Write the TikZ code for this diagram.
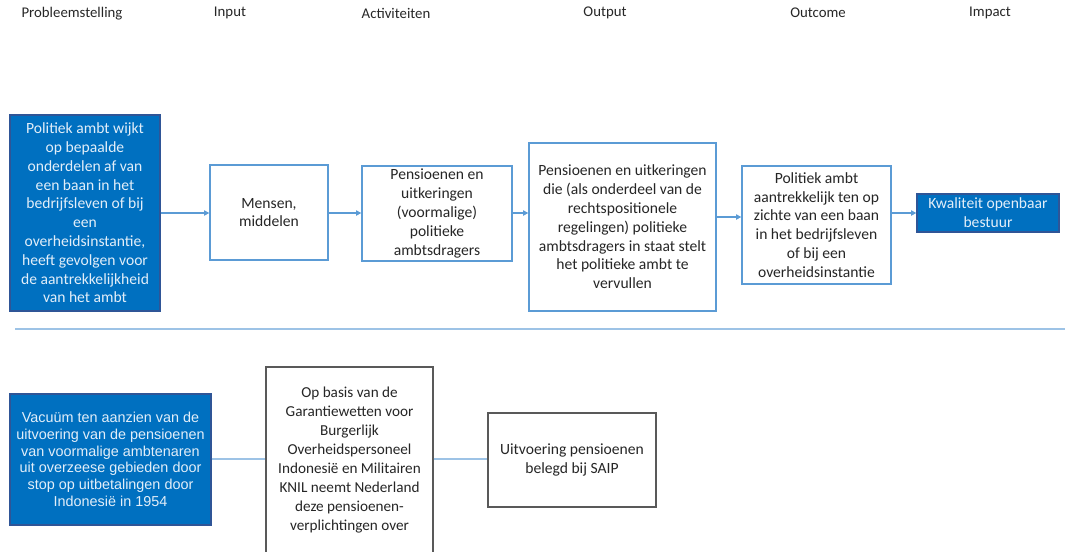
\documentclass[tikz,border=0pt]{standalone}
\usepackage{fontspec}
\setmainfont{Carlito}
\newfontfamily\arialf{Liberation Sans}
\usetikzlibrary{arrows.meta}
\definecolor{bluefill}{HTML}{0070C0}
\definecolor{blueborder}{HTML}{2F5597}
\definecolor{boxline}{HTML}{5B9BD5}
\definecolor{lightline}{HTML}{9DC3E6}
\definecolor{grayline}{HTML}{595959}
\definecolor{lighttext}{HTML}{E2EEF9}
\definecolor{darktext}{HTML}{262626}
\def\u{0.75pt}
\tikzset{
  header/.style={font=\fontsize{11.1}{12}\selectfont, text=darktext, inner sep=0pt},
  wbox/.style={draw=boxline, line width=1pt, fill=white, align=center, inner sep=0pt,
    text=darktext, font=\fontsize{11.7}{14.1}\selectfont},
  bbox/.style={draw=blueborder, line width=1pt, fill=bluefill, align=center, inner sep=0pt,
    text=lighttext, font=\fontsize{11.7}{14.1}\selectfont},
  gbox/.style={draw=grayline, line width=0.9pt, fill=white, align=center, inner sep=0pt,
    text=darktext, font=\fontsize{11.4}{14.25}\selectfont},
  flow/.style={draw=boxline, line width=1pt, -{Triangle[length=4pt,width=4pt]}},
  plain/.style={draw=lightline, line width=1.2pt},
}
\begin{document}
\begin{tikzpicture}[x=0.75pt,y=-0.75pt]
\useasboundingbox (0,0) rectangle (1067,551);
\clip (0,0) rectangle (1067,551);

% headers
\node[header] (h1) at (72,14) {Probleemstelling};
\node[header] (h2) at (230,13) {Input};
\node[header] (h3) at (396,13) {Activiteiten};
\node[header] (h4) at (605,13) {Output};
\node[header] (h5) at (818,13) {Outcome};
\node[header] (h6) at (990,13) {Impact};

% top row
\node[bbox, minimum width=150*\u, minimum height=196*\u] (p1) at (85,213)
  {Politiek ambt wijkt\\op bepaalde\\onderdelen af van\\een baan in het\\bedrijfsleven of bij\\een\\overheidsinstantie,\\heeft gevolgen voor\\de aantrekkelijkheid\\van het ambt};
\node[wbox, minimum width=118*\u, minimum height=95*\u] (in) at (269,212.5)
  {Mensen,\\middelen};
\node[wbox, minimum width=150*\u, minimum height=95*\u] (act) at (437,213.5)
  {Pensioenen en\\uitkeringen\\(voormalige)\\politieke\\ambtsdragers};
\node[wbox, minimum width=187*\u, minimum height=168*\u] (out) at (622.5,227)
  {Pensioenen en uitkeringen\\die (als onderdeel van de\\rechtspositionele\\regelingen) politieke\\ambtsdragers in staat stelt\\het politieke ambt te\\vervullen};
\node[wbox, minimum width=149*\u, minimum height=118*\u] (oc) at (816.5,225)
  {Politiek ambt\\aantrekkelijk ten op\\zichte van een baan\\in het bedrijfsleven\\of bij een\\overheidsinstantie};
\node[bbox, minimum width=142*\u, minimum height=38*\u] (imp) at (988,213)
  {Kwaliteit openbaar\\bestuur};

\draw[flow] (p1.east |- 0,213) -- (in.west |- 0,213);
\draw[flow] (in.east |- 0,213) -- (act.west |- 0,213);
\draw[flow] (act.east |- 0,213) -- (out.west |- 0,213);
\draw[flow] (out.east |- 0,217) -- (oc.west |- 0,217);
\draw[flow] (oc.east |- 0,213) -- (imp.west |- 0,213);

% separator
\coordinate (s1) at (15,329);
\coordinate (s2) at (1065,329);
\draw[plain] (s1) -- (s2);

% bottom row
\node[bbox, minimum width=201*\u, minimum height=131*\u,
  font=\arialf\fontsize{10.8}{12.5}\selectfont] (vac) at (110.5,459.5)
  {Vacuüm ten aanzien van de\\uitvoering van de pensioenen\\van voormalige ambtenaren\\uit overzeese gebieden door\\stop op uitbetalingen door\\Indonesië in 1954};
\node[gbox, minimum width=167*\u, minimum height=186*\u] (gar) at (349.5,460)
  {Op basis van de\\Garantiewetten voor\\Burgerlijk\\Overheidspersoneel\\Indonesië en Militairen\\KNIL neemt Nederland\\deze pensioenen-\\verplichtingen over};
\node[gbox, minimum width=168*\u, minimum height=94*\u, font=\fontsize{11.7}{14.25}\selectfont] (saip) at (572,460)
  {Uitvoering pensioenen\\belegd bij SAIP};

\draw[plain] (vac.east |- 0,459) -- (gar.west |- 0,459);
\draw[plain] (gar.east |- 0,459) -- (saip.west |- 0,459);
\end{tikzpicture}
\end{document}
